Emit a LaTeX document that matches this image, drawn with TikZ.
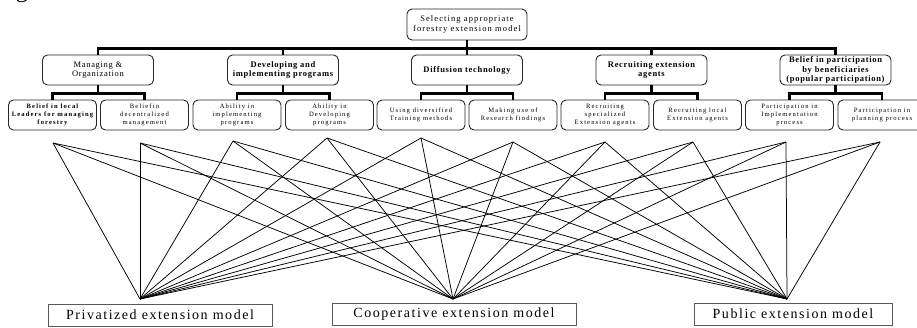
\documentclass[tikz,border=0pt]{standalone}
\usepackage{fontspec}
\setmainfont{Liberation Serif}
\newfontfamily\spfont[LetterSpace=13]{Liberation Serif}
\newfontfamily\mdfont[LetterSpace=8]{Liberation Serif}
\newfontfamily\smfont[LetterSpace=17]{Liberation Serif}
\newfontfamily\bgfont[LetterSpace=11]{Liberation Serif}
\begin{document}
\begin{tikzpicture}[x=1pt,y=-1pt,
  rbox/.style={draw=black!85, line width=0.9pt, rounded corners=5pt, align=center, inner sep=0pt},
  topbox/.style={rbox, minimum width=120pt, minimum height=31pt, font=\spfont\fontsize{8.5}{9.6}\selectfont},
  lvtwo/.style={rbox, minimum width=111pt, minimum height=30pt, font=\mdfont\fontsize{8.5}{9.2}\selectfont},
  lvthree/.style={rbox, minimum width=88pt, minimum height=30pt, font=\smfont\fontsize{6.6}{7.8}\selectfont},
  modelbox/.style={draw=black!65, line width=0.9pt, minimum height=22pt, inner sep=0pt, font=\bgfont\fontsize{14}{16}\selectfont},
  tree/.style={line width=2.6pt, black},
  fan/.style={line width=0.75pt, black}]
\useasboundingbox (0,0) rectangle (917,327);
\node[anchor=base, font=\fontsize{24}{24}\selectfont] (frag) at (22,-3) {g};
% top
\node[topbox] (top) at (467,24.5) {Selecting appropriate\\forestry extension model};
% level 2
\node[lvtwo] (m) at (98,70) {Managing \&\\Organization};
\node[lvtwo] (d) at (283,70) {\bfseries Developing and\\\bfseries implementing programs};
\node[lvtwo] (f) at (467,70) {\bfseries Diffusion technology};
\node[lvtwo] (r) at (651.5,70) {\bfseries Recruiting extension\\\bfseries agents};
\node[lvtwo] (b) at (835.5,70) {\bfseries Belief in participation\\\bfseries by beneficiaries\\\bfseries (popular participation)};
% level 3
\node[lvthree] (a1) at (52.5,115) {\bfseries Belief in local\\\bfseries Leaders for managing\\\bfseries forestry};
\node[lvthree] (a2) at (144.5,115) {Beliefin\\decentralized\\management};
\node[lvthree] (a3) at (237,115) {Ability in\\implementing\\programs};
\node[lvthree] (a4) at (329.5,115) {Ability in\\Developing\\programs};
\node[lvthree] (a5) at (421,115) {Using diversified\\Training methods};
\node[lvthree] (a6) at (513,115) {Making use of\\Research findings};
\node[lvthree] (a7) at (605,115) {Recruiting\\specialized\\Extension agents};
\node[lvthree] (a8) at (697.5,115) {Recruiting local\\Extension agents};
\node[lvthree] (a9) at (789.5,115) {Participation in\\Implementation\\process};
\node[lvthree] (a10) at (882,115) {Participation in\\planning process};
% tree connectors
\foreach \n in {m,d,f,r,b} \draw[tree] (top.south) -- ++(0,8) -| (\n.north);
\draw[tree] (m.south) -- ++(0,8) -| (a1.north);
\draw[tree] (m.south) -- ++(0,8) -| (a2.north);
\draw[tree] (d.south) -- ++(0,8) -| (a3.north);
\draw[tree] (d.south) -- ++(0,8) -| (a4.north);
\draw[tree] (f.south) -- ++(0,8) -| (a5.north);
\draw[tree] (f.south) -- ++(0,8) -| (a6.north);
\draw[tree] (r.south) -- ++(0,8) -| (a7.north);
\draw[tree] (r.south) -- ++(0,8) -| (a8.north);
\draw[tree] (b.south) -- ++(0,8) -| (a9.north);
\draw[tree] (b.south) -- ++(0,8) -| (a10.north);
% fan apex points
\coordinate (p1) at (53,143);
\coordinate (p2) at (140,143);
\coordinate (p3) at (233,141);
\coordinate (p4) at (327,138);
\coordinate (p5) at (421,138);
\coordinate (p6) at (513,142);
\coordinate (p7) at (605,142);
\coordinate (p8) at (693,142);
\coordinate (p9) at (786,142);
\coordinate (p10) at (880,142);
% convergence points
\coordinate (cpv) at (140,299);
\coordinate (cco) at (453,299);
\coordinate (cpu) at (787,299);
\foreach \p in {p1,p2,p3,p4,p5,p6,p7,p8,p9,p10}{
  \draw[fan] (\p) -- (cpv);
  \draw[fan] (\p) -- (cco);
  \draw[fan] (\p) -- (cpu);
}
% model boxes
\node[modelbox, minimum width=224pt] (pv) at (160,315) {Privatized extension model};
\node[modelbox, minimum width=244pt] (co) at (454,314) {Cooperative extension model};
\node[modelbox, minimum width=198pt] (pu) at (793,314) {Public extension model};
\end{tikzpicture}
\end{document}
